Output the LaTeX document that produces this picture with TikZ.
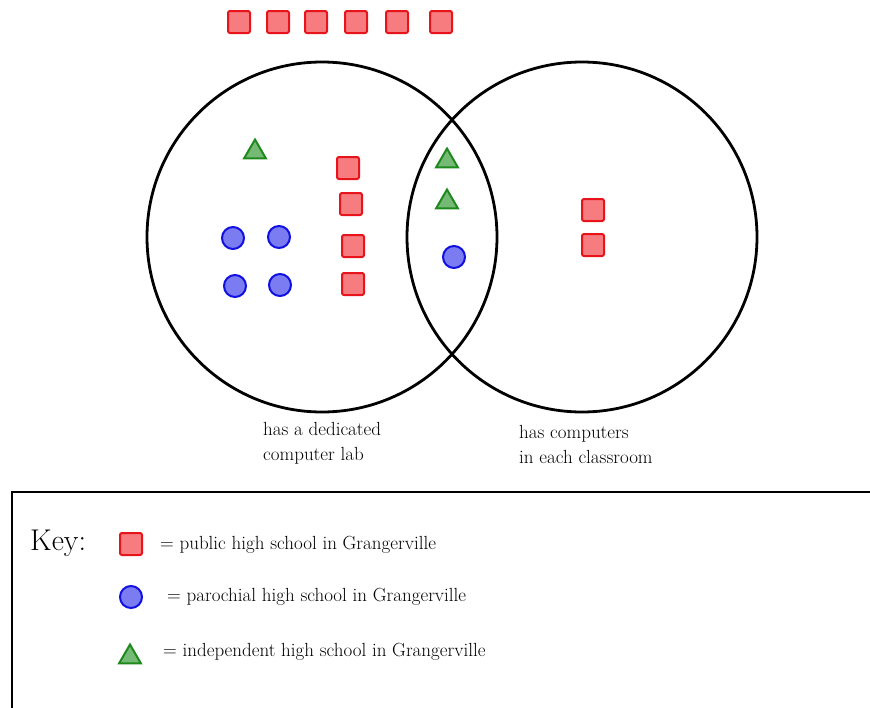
\documentclass[tikz,border=0pt]{standalone}
\usepackage{xcolor}
\usepackage{tikz}
\usetikzlibrary{shapes.geometric}
\definecolor{publine}{HTML}{E8141C}
\definecolor{pubfill}{HTML}{F67C80}
\definecolor{parline}{HTML}{1010E0}
\definecolor{parfill}{HTML}{7C7CF2}
\definecolor{indline}{HTML}{1E8A1E}
\definecolor{indfill}{HTML}{74BA74}
\begin{document}
\begin{tikzpicture}[x=1pt,y=-1pt,font=\fontsize{19}{25}\selectfont,
  pub/.style={draw=publine,fill=pubfill,line width=2pt,rounded corners=2pt,minimum size=22pt,inner sep=0pt},
  par/.style={circle,draw=parline,fill=parfill,line width=2pt,minimum size=22pt,inner sep=0pt},
  ind/.style={regular polygon,regular polygon sides=3,draw=indline,fill=indfill,line width=2pt,minimum size=25pt,inner sep=0pt},
  lbl/.style={anchor=west,inner sep=0pt}]
  \useasboundingbox (0,0) rectangle (870,707);
  % the two sets
  \draw[line width=2.8pt] (322,237) circle (175);
  \draw[line width=2.8pt] (582,237) circle (175);
  \node[lbl,align=left] (lab) at (263,443) {has a dedicated\\computer lab};
  \node[lbl,align=left] (cls) at (519,444) {has computers\\in each classroom};
  % schools in neither set
  \foreach \x [count=\i] in {239,278,316,356,397,441} \node[pub] (top\i) at (\x,22) {};
  % lab only
  \node[ind] (i1) at (255,152) {};
  \foreach \x/\y [count=\i] in {348/168,351/204,353/246,353/284} \node[pub] (l\i) at (\x,\y) {};
  \foreach \x/\y [count=\i] in {233/238,279/237,235/286,280/285} \node[par] (p\i) at (\x,\y) {};
  % both
  \node[ind] (i2) at (447,161) {};
  \node[ind] (i3) at (447,202) {};
  \node[par] (p5) at (454,257) {};
  % classroom only
  \node[pub] (r1) at (593,210) {};
  \node[pub] (r2) at (593,245) {};
  % key
  \draw[line width=2.4pt] (12,712) -- (12,492) -- (875,492);
  \node[lbl,font=\fontsize{30}{33}\selectfont] (key) at (30,543) {Key:};
  \node[pub] (kpub) at (131,544) {};
  \node[par] (kpar) at (131,597) {};
  \node[ind] (kind) at (130,657) {};
  \node[lbl] (tpub) at (160,545) {= public high school in Grangerville};
  \node[lbl] (tpar) at (167,597) {= parochial high school in Grangerville};
  \node[lbl] (tind) at (163,652) {= independent high school in Grangerville};
\end{tikzpicture}
\end{document}
